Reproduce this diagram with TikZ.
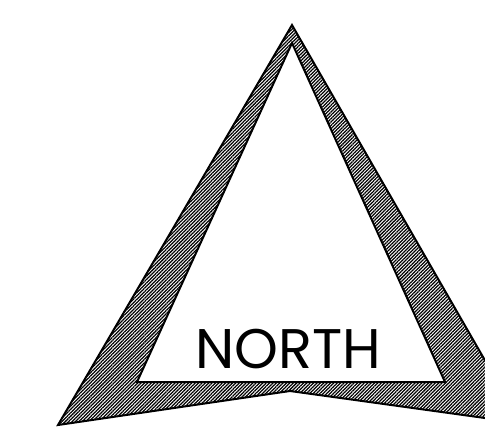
\documentclass[tikz,border=0pt]{standalone}
\usepackage{fontspec}
\setmainfont{Poppins}
\usetikzlibrary{patterns.meta}
\begin{document}
\begin{tikzpicture}[x=1bp,y=-1bp,line width=2bp,line join=miter]
\useasboundingbox (0,0) rectangle (485,426);
\clip (0,0) rectangle (485,426);
\coordinate (o1) at (292,25);
\coordinate (o2) at (58,425);
\coordinate (o3) at (290,391);
\coordinate (o4) at (521,423);
\coordinate (i1) at (292,43);
\coordinate (i2) at (137,382);
\coordinate (i3) at (445,382);
\fill[pattern={Lines[angle=45,distance=2.4pt,line width=1.25pt]},even odd rule]
  (o1) -- (o2) -- (o3) -- (o4) -- cycle (i1) -- (i2) -- (i3) -- cycle;
\draw (o1) -- (o2) -- (o3) -- (o4) -- cycle (i1) -- (i2) -- (i3) -- cycle;
\node (north) at (288,349) {\fontsize{56}{60}\selectfont NORTH};
\end{tikzpicture}
\end{document}
